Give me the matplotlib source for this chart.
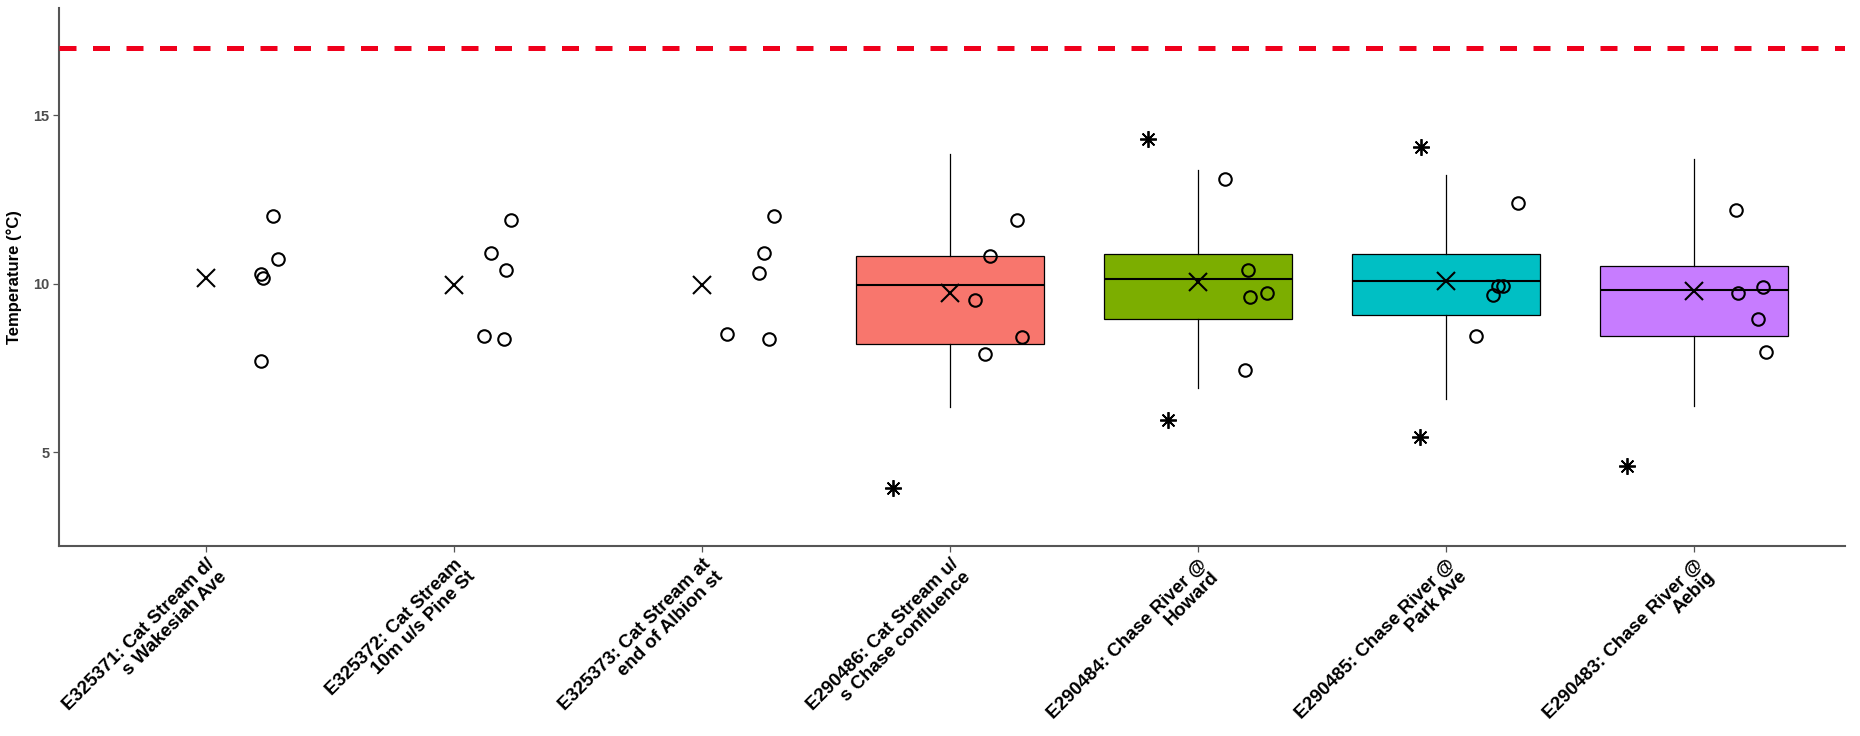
import numpy as np
import matplotlib.pyplot as plt

# Sites (x categories)
sites = [
    "E325371: Cat Stream d/\ns Wakesiah Ave",
    "E325372: Cat Stream\n10m u/s Pine St",
    "E325373: Cat Stream at\nend of Albion st",
    "E290486: Cat Stream u/\ns Chase confluence",
    "E290484: Chase River @\nHoward",
    "E290485: Chase River @\nPark Ave",
    "E290483: Chase River @\nAebig",
]

# mean of each site (X marker)
means = [10.18, 9.96, 9.96, 9.72, 10.04, 10.07, 9.79]

# individual samples (open circles)
samples = [
    [12.0, 10.74, 10.28, 10.18, 7.71],
    [11.90, 10.92, 10.42, 8.45, 8.35],
    [12.0, 10.92, 10.32, 8.52, 8.35],
    [11.90, 10.81, 9.51, 8.42, 7.92],
    [13.10, 10.42, 9.72, 9.61, 7.43],
    [12.39, 9.93, 9.93, 9.65, 8.45],
    [12.18, 9.89, 9.72, 8.94, 7.96],
]
# horizontal jitter of the samples (fraction of category spacing)
jitter = [
    [0.27, 0.29, 0.22, 0.23, 0.22],
    [0.23, 0.15, 0.21, 0.12, 0.20],
    [0.29, 0.25, 0.23, 0.10, 0.27],
    [0.27, 0.16, 0.10, 0.29, 0.14],
    [0.11, 0.20, 0.28, 0.21, 0.19],
    [0.29, 0.23, 0.21, 0.19, 0.12],
    [0.17, 0.28, 0.18, 0.26, 0.29],
]

# box plots only for the last four sites
box_sites = [3, 4, 5, 6]
box_q1 = [8.20, 8.94, 9.08, 8.45]
box_med = [9.96, 10.14, 10.07, 9.82]
box_q3 = [10.81, 10.88, 10.88, 10.53]
box_lo = [6.34, 6.90, 6.58, 6.37]
box_hi = [13.84, 13.38, 13.24, 13.70]
box_colors = ["#F8766D", "#7CAE00", "#00BFC4", "#C77CFF"]

# extreme values (asterisks)
star_site = [3, 4, 4, 5, 5, 6]
star_val = [3.94, 14.30, 5.95, 14.05, 5.46, 4.58]
star_jit = [-0.23, -0.20, -0.12, -0.10, -0.105, -0.27]

guideline = 17  # °C

fig = plt.figure(figsize=(18.6, 7.36), dpi=100)
ax = fig.add_axes([0.0317, 0.258, 0.9603, 0.731])

pos = np.arange(1, len(sites) + 1)

stats = []
for i, s in enumerate(box_sites):
    stats.append({"med": box_med[i], "q1": box_q1[i], "q3": box_q3[i],
                  "whislo": box_lo[i], "whishi": box_hi[i]})
bp = ax.bxp(stats, positions=pos[box_sites], widths=0.756, patch_artist=True,
            showcaps=False, showfliers=False,
            boxprops=dict(edgecolor="black", linewidth=0.9),
            medianprops=dict(color="black", linewidth=1.5),
            whiskerprops=dict(color="black", linewidth=0.9), zorder=2)
for patch, c in zip(bp["boxes"], box_colors):
    patch.set_facecolor(c)

for i in range(len(sites)):
    xs = pos[i] + np.array(jitter[i])
    ax.plot(xs, samples[i], linestyle="none", marker="o", ms=9,
            mfc="none", mec="black", mew=1.5, zorder=4)

ax.plot(pos, means, linestyle="none", marker="x", ms=13, color="black",
        mew=1.5, zorder=4)

ax.plot(pos[star_site] + np.array(star_jit), star_val, linestyle="none",
        marker=(8, 2, 0), ms=12, color="black", mew=1.3, zorder=4)

ax.axhline(guideline, color="#f0001c", linewidth=3.6, dashes=(3.4, 3.3), zorder=3)

ax.set_xlim(0.407, 7.61)
ax.set_ylim(2.21, 18.18)
ax.set_yticks([5, 10, 15])
ax.set_yticklabels(["5", "10", "15"], fontsize=10.5, fontweight="bold",
                   color="#4d4d4d", family="Liberation Sans")
ax.set_xticks(pos)
ax.set_xticklabels(sites, rotation=45, ha="right", va="top",
                   rotation_mode="anchor", multialignment="right",
                   fontsize=13.5, fontweight="bold", family="Liberation Sans",
                   linespacing=1.05)
ax.tick_params(axis="both", length=4, width=0.9, color="#555555", pad=3)
ax.set_ylabel("Temperature (°C)", fontsize=12, fontweight="bold",
              family="Liberation Sans", labelpad=8)

for side in ["top", "right"]:
    ax.spines[side].set_visible(False)
for side in ["left", "bottom"]:
    ax.spines[side].set_color("#555555")
    ax.spines[side].set_linewidth(1.5)

fig.savefig("out.png", dpi=100)
